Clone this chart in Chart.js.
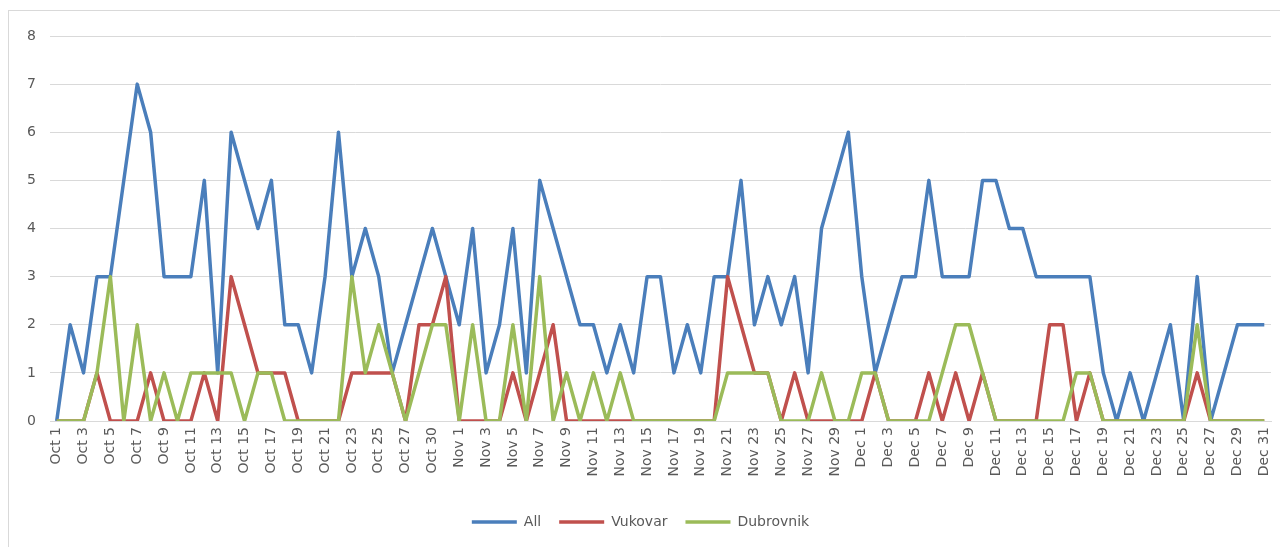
<!DOCTYPE html>
<html>
<head>
<meta charset="utf-8">
<script src="https://cdn.jsdelivr.net/npm/chart.js@4.4.0/dist/chart.umd.min.js"></script>
<style>
  html, body { margin: 0; padding: 0; background: #fff; overflow: hidden; }
  #frame { position: absolute; left: 8px; top: 10px; width: 1300px; height: 560px; border: 1px solid #d9d9d9; }
  #wrap { position: absolute; left: 0; top: 0; width: 1280px; height: 547px; }
</style>
</head>
<body>
<div id="frame"></div>
<div id="wrap"><canvas id="chart"></canvas></div>
<script>
// dates (Oct 28 is not in the data)
const days = [
  'Oct 1','Oct 2','Oct 3','Oct 4','Oct 5','Oct 6','Oct 7','Oct 8','Oct 9','Oct 10',
  'Oct 11','Oct 12','Oct 13','Oct 14','Oct 15','Oct 16','Oct 17','Oct 18','Oct 19','Oct 20',
  'Oct 21','Oct 22','Oct 23','Oct 24','Oct 25','Oct 26','Oct 27','Oct 29','Oct 30','Oct 31',
  'Nov 1','Nov 2','Nov 3','Nov 4','Nov 5','Nov 6','Nov 7','Nov 8','Nov 9','Nov 10',
  'Nov 11','Nov 12','Nov 13','Nov 14','Nov 15','Nov 16','Nov 17','Nov 18','Nov 19','Nov 20',
  'Nov 21','Nov 22','Nov 23','Nov 24','Nov 25','Nov 26','Nov 27','Nov 28','Nov 29','Nov 30',
  'Dec 1','Dec 2','Dec 3','Dec 4','Dec 5','Dec 6','Dec 7','Dec 8','Dec 9','Dec 10',
  'Dec 11','Dec 12','Dec 13','Dec 14','Dec 15','Dec 16','Dec 17','Dec 18','Dec 19','Dec 20',
  'Dec 21','Dec 22','Dec 23','Dec 24','Dec 25','Dec 26','Dec 27','Dec 28','Dec 29','Dec 30',
  'Dec 31'
];

const allCases = [
  0,2,1,3,3,5,7,6,3,3, 3,5,1,6,5,4,5,2,2,1,
  3,6,3,4,3,1,2,3,4,3, 2,4,1,2,4,1,5,4,3,2,
  2,1,2,1,3,3,1,2,1,3, 3,5,2,3,2,3,1,4,5,6,
  3,1,2,3,3,5,3,3,3,5, 5,4,4,3,3,3,3,3,1,0,
  1,0,1,2,0,3,0,1,2,2, 2
];
const vukovar = [
  0,0,0,1,0,0,0,1,0,0, 0,1,0,3,2,1,1,1,0,0,
  0,0,1,1,1,1,0,2,2,3, 0,0,0,0,1,0,1,2,0,0,
  0,0,0,0,0,0,0,0,0,0, 3,2,1,1,0,1,0,0,0,0,
  0,1,0,0,0,1,0,1,0,1, 0,0,0,0,2,2,0,1,0,0,
  0,0,0,0,0,1,0,0,0,0, 0
];
const dubrovnik = [
  0,0,0,1,3,0,2,0,1,0, 1,1,1,1,0,1,1,0,0,0,
  0,0,3,1,2,1,0,1,2,2, 0,2,0,0,2,0,3,0,1,0,
  1,0,1,0,0,0,0,0,0,0, 1,1,1,1,0,0,0,1,0,0,
  1,1,0,0,0,0,1,2,2,1, 0,0,0,0,0,0,1,1,0,0,
  0,0,0,0,0,2,0,0,0,0, 0
];

const textColor = '#595959';
const gridColor = '#d9d9d9';
Chart.defaults.font.family = '"DejaVu Sans", Verdana, sans-serif';
Chart.defaults.color = textColor;

const ctx = document.querySelector('#chart').getContext('2d');

new Chart(ctx, {
  type: 'line',
  data: {
    labels: days,
    datasets: [
      { label: 'All', data: allCases, borderColor: '#4a7ebb', backgroundColor: '#4a7ebb', borderWidth: 3.5, order: 3 },
      { label: 'Vukovar', data: vukovar, borderColor: '#c0504d', backgroundColor: '#c0504d', borderWidth: 3.5, order: 2 },
      { label: 'Dubrovnik', data: dubrovnik, borderColor: '#9bbb59', backgroundColor: '#9bbb59', borderWidth: 3.5, order: 1 }
    ]
  },
  options: {
    responsive: true,
    maintainAspectRatio: false,
    animation: false,
    elements: { point: { radius: 0 }, line: { tension: 0, borderJoinStyle: 'round' } },
    layout: { padding: { left: 10, right: 9, top: 36, bottom: 8 } },
    scales: {
      x: {
        offset: true,
        grid: { display: false, drawTicks: false },
        border: { color: gridColor },
        ticks: {
          autoSkip: false,
          maxRotation: 90,
          minRotation: 90,
          padding: 6,
          font: { size: 14 },
          callback: function (value, index) {
            return index % 2 === 0 ? this.getLabelForValue(value) : '';
          }
        },
        afterFit: (scale) => {
          scale.height = 76;
          scale.paddingLeft = 0;
          scale.paddingRight = 0;
        }
      },
      y: {
        min: 0,
        max: 8,
        grid: { color: gridColor, drawTicks: false },
        border: { display: false },
        ticks: { stepSize: 1, padding: 14, font: { size: 14 } },
        afterFit: (scale) => { scale.width = 40; }
      }
    },
    plugins: {
      tooltip: { enabled: false },
      legend: {
        position: 'bottom',
        labels: {
          usePointStyle: true,
          pointStyle: 'line',
          pointStyleWidth: 45,
          padding: 18,
          font: { size: 14 },
          sort: (a, b) => a.datasetIndex - b.datasetIndex
        }
      }
    }
  }
});
</script>
</body>
</html>
